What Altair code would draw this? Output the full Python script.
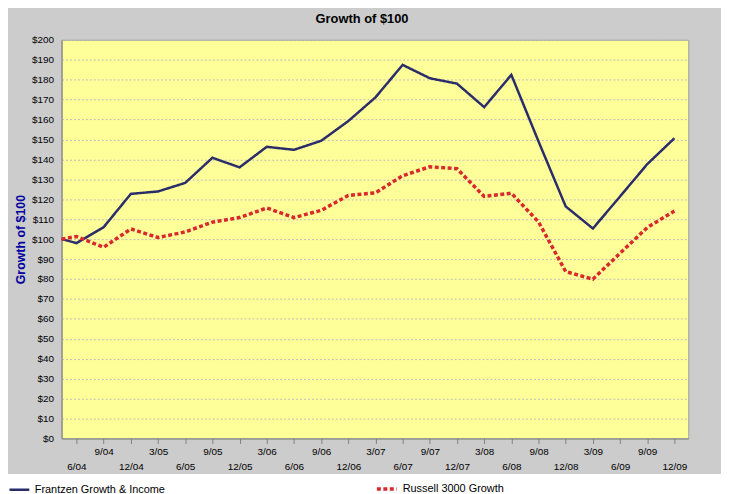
import json
import altair as alt
import pandas as pd

FONT = "Liberation Sans"

series_names = ["Frantzen Growth & Income", "Russell 3000 Growth"]
quarters = ["6/04", "9/04", "12/04", "3/05", "6/05", "9/05", "12/05", "3/06",
            "6/06", "9/06", "12/06", "3/07", "6/07", "9/07", "12/07", "3/08",
            "6/08", "9/08", "12/08", "3/09", "6/09", "9/09", "12/09"]
# period index: inception point, then quarter ends 1..23
period = [0.45] + list(range(1, 24))
frantzen = [100, 98, 106, 122.7, 123.9, 128.2, 140.8, 136, 146.3, 144.8, 149.3,
            159.2, 171.1, 187.4, 180.7, 178, 166.2, 182.4, 149, 116.4, 105.3,
            121.4, 137.6, 150.6]
russell = [100, 101.3, 95.9, 105.1, 100.8, 103.6, 108.5, 110.8, 115.6, 110.8,
           114.4, 121.9, 123.2, 131.8, 136.3, 135.3, 121.4, 123, 108.6, 83.7,
           79.9, 92.9, 105.8, 114.1]
y_ticks = list(range(0, 201, 10))

rows = []
for p, v in zip(period, frantzen):
    rows.append({"period": p, "value": v, "series": series_names[0]})
for p, v in zip(period, russell):
    rows.append({"period": p, "value": v, "series": series_names[1]})
df = pd.DataFrame(rows)

lbl_js = json.dumps(quarters)
label_expr = (f"datum.value % 2 == 1 ? [' ', {lbl_js}[datum.value - 1]]"
              f" : {lbl_js}[datum.value - 1]")

legend = alt.Legend(
    title=None, orient="none", legendX=-54, legendY=441, direction="horizontal",
    symbolType="stroke", symbolSize=400, labelFont=FONT, labelFontSize=11,
    labelColor="#000000", labelOffset=4, columnPadding=206, labelLimit=300,
)

lines = alt.Chart(df).mark_line(strokeCap="butt").encode(
    x=alt.X("period:Q",
            scale=alt.Scale(domain=[0.45, 23.51], nice=False, zero=False),
            axis=alt.Axis(values=list(range(1, 24)), labelExpr=label_expr,
                          title=None, grid=False, tickSize=5,
                          tickColor="#808080", domainColor="#808080",
                          labelFont=FONT, labelFontSize=10, labelColor="#000000",
                          labelPadding=3, labelLineHeight=15, labelBaseline="top",
                          labelFlush=False, labelOverlap=False)),
    y=alt.Y("value:Q",
            scale=alt.Scale(domain=[0, 200], nice=False),
            axis=alt.Axis(values=y_ticks, labelExpr="'$' + datum.value",
                          title="Growth of $100", titleFont=FONT,
                          titleFontSize=12.5, titleFontWeight="bold",
                          titleColor="#0000a0", titlePadding=4,
                          labelFont=FONT, labelFontSize=10, labelColor="#000000",
                          labelPadding=8, ticks=False, domainColor="#808080",
                          gridColor="#bdbdbd", gridDash=[2, 2], gridWidth=1)),
    color=alt.Color("series:N",
                    scale=alt.Scale(domain=series_names, range=["#2b2d6b", "#d9292e"]),
                    legend=legend),
    strokeDash=alt.StrokeDash("series:N",
                              scale=alt.Scale(domain=series_names, range=[[1, 0], [4, 2.5]]),
                              legend=legend),
    strokeWidth=alt.StrokeWidth("series:N",
                                scale=alt.Scale(domain=series_names, range=[2.5, 3.5]),
                                legend=legend),
)

# white strip under the grey panel (legend sits on white)
strip = alt.Chart(alt.Data(values=[{}])).mark_rect(color="#ffffff").encode(
    x=alt.value(-54), x2=alt.value(667), y=alt.value(438), y2=alt.value(460)
)

chart = alt.layer(strip, lines).properties(
    width=632, height=402,
    title=alt.TitleParams("Growth of $100", font=FONT, fontSize=13,
                          fontWeight="bold", color="#000000", anchor="middle",
                          dx=-13, offset=9),
    autosize=alt.AutoSizeParams(type="none"),
    padding={"left": 54, "top": 30, "right": 33, "bottom": 54},
    background="#cccccc",
).configure_view(fill="#ffff99", stroke="#a0a0a0")

chart.save("out.html", embed_options={"renderer": "svg", "actions": False})
